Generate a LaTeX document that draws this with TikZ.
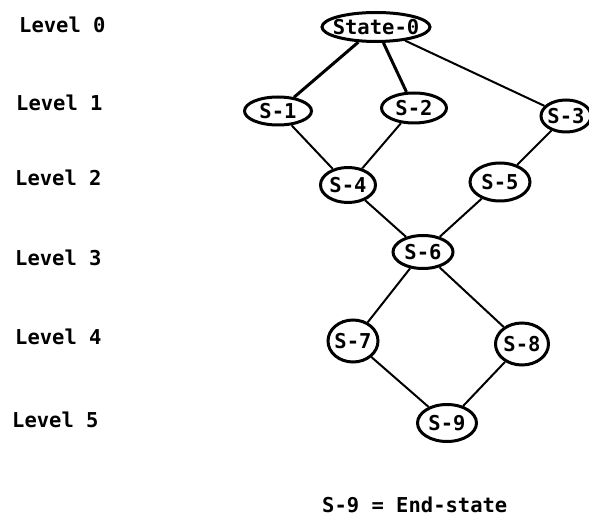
\documentclass[tikz,border=0pt]{standalone}
\usepackage{fontspec}
\setmonofont{DejaVu Sans Mono}
\usepackage{tikz}
\usetikzlibrary{shapes.geometric,positioning}
\tikzset{x=1pt, y=-1pt}
\newcommand{\lvfont}{\ttfamily\bfseries\fontsize{20.5}{20.5}\selectfont}
\tikzstyle{lvl}=[anchor=west, inner sep=0pt, font=\lvfont]
\tikzstyle{st}=[ellipse, draw=black, fill=white, line width=3pt, inner xsep=-6pt, inner ysep=0pt, font=\lvfont]
\tikzstyle{tr}=[line width=2pt]
\tikzstyle{thtr}=[line width=3pt]

\begin{document}
\begin{tikzpicture}
        \useasboundingbox (0,0) rectangle (589,518);
        % level labels
        \node[lvl] (l0) at (19,25) {Level 0};
        \node[lvl] (l1) at (16,103) {Level 1};
        \node[lvl] (l2) at (15,178) {Level 2};
        \node[lvl] (l3) at (15,258) {Level 3};
        \node[lvl] (l4) at (15,337) {Level 4};
        \node[lvl] (l5) at (12,420) {Level 5};
        % states
        \node[st, minimum width=108, minimum height=29] (s0) at (376,27) {State-0};
        \node[st, minimum width=67, minimum height=28] (s1) at (278,111) {S-1};
        \node[st, minimum width=65, minimum height=30] (s2) at (414,108) {S-2};
        \node[st, minimum width=50, minimum height=32] (s3) at (566,116) {S-3};
        \node[st, minimum width=55, minimum height=35] (s4) at (348,185) {S-4};
        \node[st, minimum width=60, minimum height=38] (s5) at (500,182) {S-5};
        \node[st, minimum width=60, minimum height=33] (s6) at (423,252) {S-6};
        \node[st, minimum width=50, minimum height=42] (s7) at (353,341) {S-7};
        \node[st, minimum width=53, minimum height=42] (s8) at (522,344) {S-8};
        \node[st, minimum width=59, minimum height=37] (s9) at (447,423) {S-9};
        \draw[thtr] (s0) -- (s1);
        \draw[thtr] (s0) -- (s2);
        \draw[tr] (s0) -- (s3);
        \draw[tr] (s1) -- (s4);
        \draw[tr] (s2) -- (s4);
        \draw[tr] (s3) -- (s5);
        \draw[tr] (s4) -- (s6);
        \draw[tr] (s5) -- (s6);
        \draw[tr] (s6) -- (s7);
        \draw[tr] (s6) -- (s8);
        \draw[tr] (s7) -- (s9);
        \draw[tr] (s8) -- (s9);
        \node[lvl] (end) at (322,505) {S-9 = End-state};
\end{tikzpicture}
\end{document}
